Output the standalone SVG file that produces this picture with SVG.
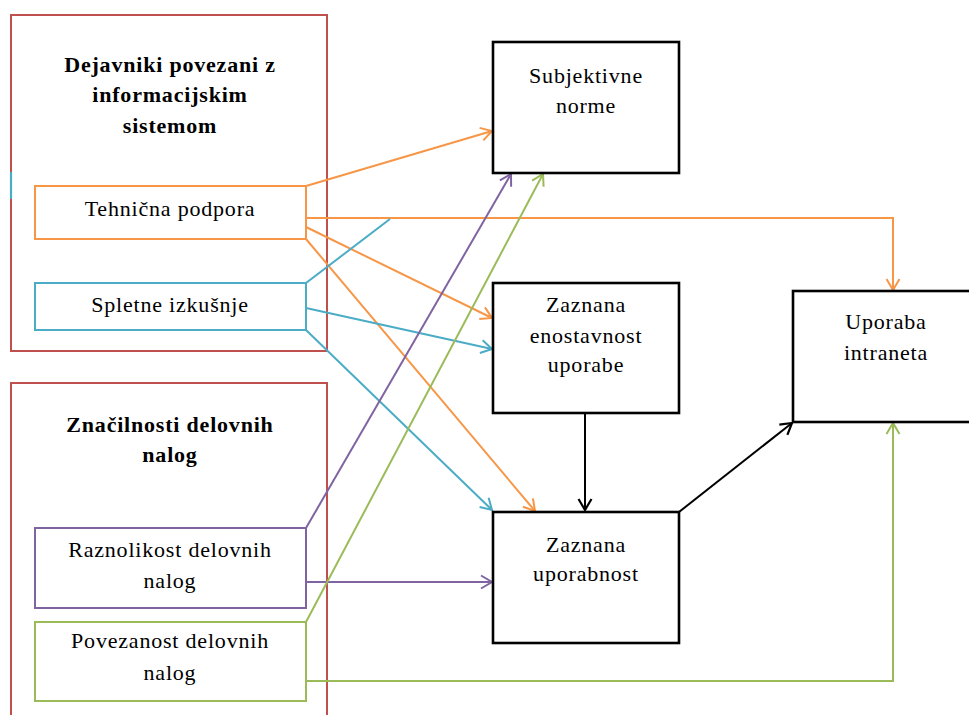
<svg xmlns="http://www.w3.org/2000/svg" width="969" height="715" viewBox="0 0 969 715">
<defs>
<style>
text{font-family:"Liberation Serif","Times New Roman",serif;font-size:22px;letter-spacing:0.8px;fill:#000;text-anchor:middle}
.b{font-weight:bold}
.grp{fill:none;stroke:#C0504D;stroke-width:2}
.blk{fill:#fff;stroke:#000;stroke-width:2.6}
.or{stroke:#F79646}.te{stroke:#4BACC6}.pu{stroke:#8064A2}.gr{stroke:#9BBB59}.bk{stroke:#000}
.c path,.c line,.c polyline{fill:none;stroke-width:2}
</style>
<marker id="aO" markerUnits="userSpaceOnUse" markerWidth="16" markerHeight="16" viewBox="-12 -8 14 16" refX="0" refY="0" orient="auto"><path d="M-11,-6.5 L0,0 L-11,6.5" fill="none" stroke="#F79646" stroke-width="2"/></marker>
<marker id="aT" markerUnits="userSpaceOnUse" markerWidth="16" markerHeight="16" viewBox="-12 -8 14 16" refX="0" refY="0" orient="auto"><path d="M-11,-6.5 L0,0 L-11,6.5" fill="none" stroke="#4BACC6" stroke-width="2"/></marker>
<marker id="aP" markerUnits="userSpaceOnUse" markerWidth="16" markerHeight="16" viewBox="-12 -8 14 16" refX="0" refY="0" orient="auto"><path d="M-11,-6.5 L0,0 L-11,6.5" fill="none" stroke="#8064A2" stroke-width="2"/></marker>
<marker id="aG" markerUnits="userSpaceOnUse" markerWidth="16" markerHeight="16" viewBox="-12 -8 14 16" refX="0" refY="0" orient="auto"><path d="M-11,-6.5 L0,0 L-11,6.5" fill="none" stroke="#9BBB59" stroke-width="2"/></marker>
<marker id="aK" markerUnits="userSpaceOnUse" markerWidth="16" markerHeight="16" viewBox="-12 -8 14 16" refX="0" refY="0" orient="auto"><path d="M-11,-6.5 L0,0 L-11,6.5" fill="none" stroke="#000" stroke-width="2.2"/></marker>
</defs>
<rect width="969" height="715" fill="#fff"/>

<g id="group-is">
<rect class="grp" x="11" y="15" width="316" height="336"/>
<line x1="11" y1="172" x2="11" y2="199" stroke="#4BACC6" stroke-width="2.2"/>
<text class="b" x="170" y="72">Dejavniki povezani z</text>
<text class="b" x="170" y="102">informacijskim</text>
<text class="b" x="170" y="133">sistemom</text>
</g>
<g id="group-tasks">
<rect class="grp" x="11" y="383" width="316" height="340"/>
<text class="b" x="170" y="432">Značilnosti delovnih</text>
<text class="b" x="170" y="462">nalog</text>
</g>

<g class="c" id="connectors">
<line class="or" x1="306" y1="186" x2="492" y2="131" marker-end="url(#aO)"/>
<polyline class="or" points="306,218 893,218 893,290" marker-end="url(#aO)"/>
<line class="or" x1="306" y1="227" x2="492" y2="318" marker-end="url(#aO)"/>
<line class="or" x1="306" y1="239" x2="535" y2="511" marker-end="url(#aO)"/>
<line class="te" x1="306" y1="283" x2="390" y2="219"/>
<line class="te" x1="306" y1="308" x2="492" y2="349" marker-end="url(#aT)"/>
<line class="te" x1="306" y1="330" x2="492" y2="510" marker-end="url(#aT)"/>
<line class="pu" x1="306" y1="528" x2="511" y2="174" marker-end="url(#aP)"/>
<line class="pu" x1="306" y1="582" x2="492" y2="582" marker-end="url(#aP)"/>
<line class="gr" x1="306" y1="622" x2="543" y2="174" marker-end="url(#aG)"/>
<polyline class="gr" points="306,681 893,681 893,423" marker-end="url(#aG)"/>
<line class="bk" x1="585" y1="413" x2="585" y2="510" marker-end="url(#aK)"/>
<line class="bk" x1="679" y1="512" x2="792" y2="423" marker-end="url(#aK)"/>
</g>

<g id="tehnicna-podpora">
<rect x="35" y="186" width="271" height="53" fill="#fff" stroke="#F79646" stroke-width="2"/>
<text x="170" y="216">Tehnična podpora</text>
</g>
<g id="spletne-izkusnje">
<rect x="35" y="283" width="271" height="47" fill="#fff" stroke="#4BACC6" stroke-width="2"/>
<text x="170" y="312">Spletne izkušnje</text>
</g>
<g id="raznolikost">
<rect x="35" y="528" width="271" height="80" fill="#fff" stroke="#8064A2" stroke-width="2"/>
<text x="170" y="557">Raznolikost delovnih</text>
<text x="170" y="588">nalog</text>
</g>
<g id="povezanost">
<rect x="35" y="622" width="271" height="79" fill="#fff" stroke="#9BBB59" stroke-width="2"/>
<text x="170" y="648">Povezanost delovnih</text>
<text x="170" y="680">nalog</text>
</g>

<g id="subjektivne-norme">
<rect class="blk" x="493" y="42" width="186" height="131"/>
<text x="586" y="83">Subjektivne</text>
<text x="586" y="113">norme</text>
</g>
<g id="zaznana-enostavnost">
<rect class="blk" x="493" y="283" width="186" height="130"/>
<text x="586" y="312">Zaznana</text>
<text x="586" y="343">enostavnost</text>
<text x="586" y="372">uporabe</text>
</g>
<g id="zaznana-uporabnost">
<rect class="blk" x="493" y="512" width="186" height="131"/>
<text x="586" y="552">Zaznana</text>
<text x="586" y="581">uporabnost</text>
</g>
<g id="uporaba-intraneta">
<rect class="blk" x="793" y="291" width="190" height="131"/>
<text x="886" y="329">Uporaba</text>
<text x="886" y="360">intraneta</text>
</g>
</svg>
